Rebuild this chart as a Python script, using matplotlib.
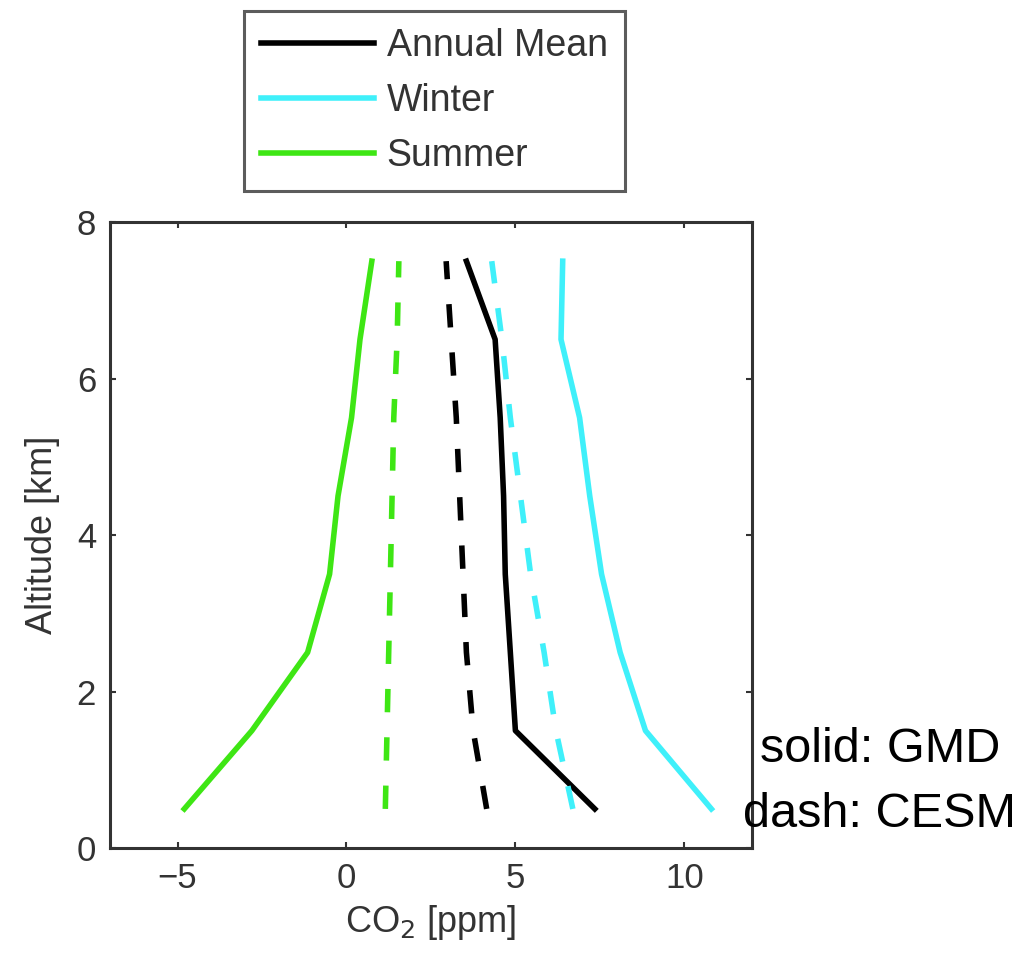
import matplotlib
matplotlib.use("Agg")
import matplotlib.pyplot as plt

# ============================================================
# Data
# ============================================================
altitude_km = [0.5, 1.5, 2.5, 3.5, 4.5, 5.5, 6.5, 7.5]

# solid: GMD observations
gmd_annual = [7.35, 5.0, 4.85, 4.7, 4.65, 4.55, 4.4, 3.55]
gmd_winter = [10.8, 8.85, 8.1, 7.55, 7.2, 6.9, 6.35, 6.4]
gmd_summer = [-4.8, -2.8, -1.15, -0.5, -0.25, 0.15, 0.4, 0.75]

# dashed: CESM model
cesm_annual = [4.15, 3.75, 3.55, 3.45, 3.35, 3.25, 3.1, 2.95]
cesm_winter = [6.7, 6.2, 5.85, 5.45, 5.15, 4.85, 4.6, 4.3]
cesm_summer = [1.15, 1.2, 1.25, 1.3, 1.35, 1.4, 1.5, 1.55]

series_labels = ["Annual Mean", "Winter", "Summer"]
x_ticks = [-5, 0, 5, 10]
y_ticks = [0, 2, 4, 6, 8]

C_ANNUAL = "#000000"
C_WINTER = "#3ff0fa"
C_SUMMER = "#3ee614"
C_TEXT = "#333333"

plt.rcParams.update({
    "font.family": ["Liberation Sans", "DejaVu Sans"],
    "axes.linewidth": 2.2,
    "axes.edgecolor": C_TEXT,
})

fig = plt.figure(figsize=(10.23, 9.55), dpi=100)
ax = fig.add_axes([0.1075, 0.112, 0.6275, 0.6555])

LW = 4.0
DASH = (4.2, 4.5)
h1, = ax.plot(gmd_annual, altitude_km, color=C_ANNUAL, lw=LW)
h2, = ax.plot(gmd_winter, altitude_km, color=C_WINTER, lw=LW)
h3, = ax.plot(gmd_summer, altitude_km, color=C_SUMMER, lw=LW)
ax.plot(cesm_annual, altitude_km, color=C_ANNUAL, lw=LW, dashes=DASH)
ax.plot(cesm_winter, altitude_km, color=C_WINTER, lw=LW, dashes=DASH)
ax.plot(cesm_summer, altitude_km, color=C_SUMMER, lw=LW, dashes=DASH)

ax.set_xlim(-7, 12)
ax.set_ylim(0, 8)
ax.set_xticks(x_ticks)
ax.set_yticks(y_ticks)
ax.set_xticklabels(["\u2212" + str(abs(t)) if t < 0 else str(t) for t in x_ticks])
ax.tick_params(direction="in", top=True, right=True, length=4, width=1.5,
               labelsize=25, labelcolor=C_TEXT, color=C_TEXT, pad=10)
ax.set_xlabel("CO$_2$ [ppm]", fontsize=26, color=C_TEXT, labelpad=6)
ax.set_ylabel("Altitude [km]", fontsize=26, color=C_TEXT, labelpad=12)

leg = fig.legend(
    [h1, h2, h3],
    series_labels,
    loc="upper center",
    bbox_to_anchor=(0.4247, 0.988),
    fontsize=27,
    handlelength=3.0,
    handletextpad=0.35,
    labelspacing=0.5,
    borderpad=0.45,
    borderaxespad=0.0,
    fancybox=False,
    frameon=True,
    edgecolor=C_TEXT,
)
leg.get_frame().set_linewidth(2.2)
for t in leg.get_texts():
    t.set_color(C_TEXT)

fig.text(0.86, 0.215, "solid: GMD", fontsize=35, ha="center", va="center")
fig.text(0.86, 0.147, "dash: CESM", fontsize=35, ha="center", va="center")

fig.savefig("out.png", dpi=100)
